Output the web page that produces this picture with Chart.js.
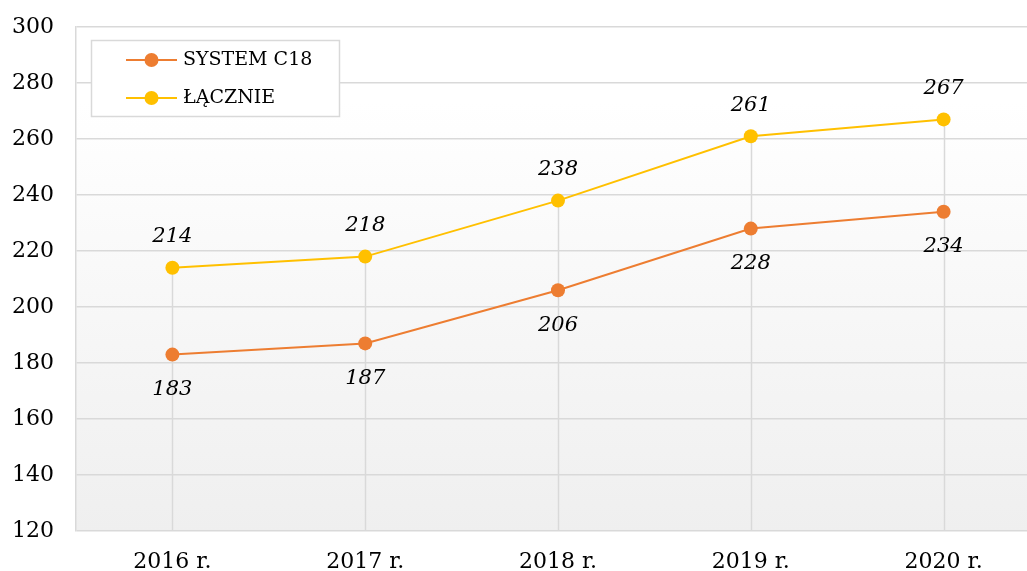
<!DOCTYPE html>
<html>
<head>
<meta charset="utf-8">
<script src="https://cdn.jsdelivr.net/npm/chart.js@4"></script>
<style>
  html, body { margin: 0; padding: 0; background: #fff; }
  #wrap { width: 1027px; height: 571px; overflow: hidden; }
  #box { width: 1040px; height: 571px; position: relative; }
</style>
</head>
<body>
<div id="wrap"><div id="box"><canvas id="lineChart"></canvas></div></div>
<script>
const years = ['2016 r.', '2017 r.', '2018 r.', '2019 r.', '2020 r.'];
const systemC18 = [183, 187, 206, 228, 234];
const lacznie = [214, 218, 238, 261, 267];
const yTicks = { min: 120, max: 300, step: 20 };

const serif = '"DejaVu Serif", "Liberation Serif", serif';
const orange = '#ED7D31';
const yellow = '#FFC000';
const gridGray = '#d9d9d9';

// plot background: white at top, light grey at the bottom
const backgroundPlugin = {
    id: 'plotBackground',
    beforeDraw(chart) {
        const { ctx, chartArea: a } = chart;
        const g = ctx.createLinearGradient(0, a.top, 0, a.bottom);
        g.addColorStop(0, '#ffffff');
        g.addColorStop(0.15, '#ffffff');
        g.addColorStop(1, '#efefef');
        ctx.save();
        ctx.fillStyle = g;
        ctx.fillRect(a.left, a.top, a.right - a.left, a.bottom - a.top);
        ctx.restore();
    }
};

// vertical drop lines from the top point down to the axis
const dropLinePlugin = {
    id: 'dropLines',
    beforeDatasetsDraw(chart) {
        const { ctx, chartArea: a } = chart;
        const top = chart.getDatasetMeta(1).data;
        ctx.save();
        ctx.strokeStyle = gridGray;
        ctx.lineWidth = 1.5;
        top.forEach(p => {
            ctx.beginPath();
            ctx.moveTo(Math.round(p.x) + 0.5, p.y);
            ctx.lineTo(Math.round(p.x) + 0.5, a.bottom);
            ctx.stroke();
        });
        ctx.restore();
    }
};

// italic value labels: yellow above, orange below
const valueLabelPlugin = {
    id: 'valueLabels',
    afterDatasetsDraw(chart) {
        const { ctx } = chart;
        ctx.save();
        ctx.font = 'italic 21px ' + serif;
        ctx.fillStyle = '#000';
        ctx.textAlign = 'center';
        ctx.textBaseline = 'middle';
        chart.getDatasetMeta(0).data.forEach((p, i) => {
            ctx.fillText(String(systemC18[i]), p.x, p.y + 35);
        });
        chart.getDatasetMeta(1).data.forEach((p, i) => {
            ctx.fillText(String(lacznie[i]), p.x, p.y - 31);
        });
        ctx.restore();
    }
};

// boxed legend inside the plot area
const boxLegendPlugin = {
    id: 'boxLegend',
    afterDraw(chart) {
        const { ctx } = chart;
        const x = 91, y = 40, w = 248, h = 76;
        ctx.save();
        ctx.fillStyle = '#fff';
        ctx.fillRect(x, y, w, h);
        ctx.strokeStyle = gridGray;
        ctx.lineWidth = 1.5;
        ctx.strokeRect(x + 0.5, y + 0.5, w, h);
        ctx.font = '19px ' + serif;
        ctx.textBaseline = 'middle';
        ctx.textAlign = 'left';
        chart.data.datasets.forEach((ds, i) => {
            const cy = 60 + i * 38;
            ctx.strokeStyle = ds.borderColor;
            ctx.lineWidth = 2;
            ctx.beginPath();
            ctx.moveTo(126, cy);
            ctx.lineTo(177, cy);
            ctx.stroke();
            ctx.fillStyle = ds.backgroundColor;
            ctx.beginPath();
            ctx.arc(151.5, cy, 7, 0, Math.PI * 2);
            ctx.fill();
            ctx.fillStyle = '#000';
            ctx.fillText(ds.label, 183, cy);
        });
        ctx.restore();
    }
};

const ctx = document.getElementById('lineChart').getContext('2d');
new Chart(ctx, {
    type: 'line',
    data: {
        labels: years,
        datasets: [{
            label: 'SYSTEM C18',
            data: systemC18,
            borderColor: orange,
            backgroundColor: orange,
            borderWidth: 2,
            pointRadius: 7,
            pointHoverRadius: 7,
            pointBorderWidth: 0
        }, {
            label: 'ŁĄCZNIE',
            data: lacznie,
            borderColor: yellow,
            backgroundColor: yellow,
            borderWidth: 2,
            pointRadius: 7,
            pointHoverRadius: 7,
            pointBorderWidth: 0
        }]
    },
    options: {
        responsive: true,
        maintainAspectRatio: false,
        animation: false,
        layout: { autoPadding: false, padding: { top: 27, right: 0, left: 0, bottom: 0 } },
        plugins: {
            legend: { display: false },
            tooltip: { enabled: false }
        },
        scales: {
            x: {
                offset: true,
                grid: { display: false, drawTicks: false },
                border: { display: false },
                ticks: { color: '#000', font: { family: serif, size: 22 }, padding: 18 },
                afterFit(scale) { scale.height = 40; }
            },
            y: {
                min: yTicks.min,
                max: yTicks.max,
                grid: { color: gridGray, lineWidth: 1.5, drawTicks: true, tickLength: 22, tickColor: 'rgba(0,0,0,0)' },
                border: { display: true, color: gridGray, width: 1.5 },
                ticks: {
                    stepSize: yTicks.step,
                    color: '#000',
                    font: { family: serif, size: 22 },
                    padding: 0
                },
                afterFit(scale) { scale.width = 76; }
            }
        }
    },
    plugins: [backgroundPlugin, dropLinePlugin, valueLabelPlugin, boxLegendPlugin]
});
</script>
</body>
</html>
